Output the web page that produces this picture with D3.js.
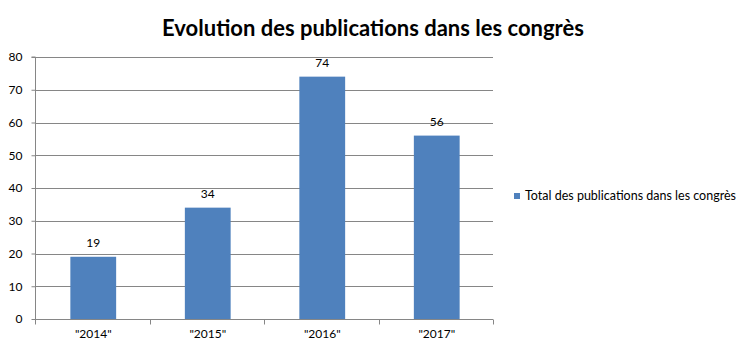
<!DOCTYPE html>
<html>
<head>
<meta charset="utf-8">
<script src="https://cdn.jsdelivr.net/npm/d3@7"></script>
<style>
  body { margin: 0; background: #fff; }
  text { font-family: Lato, "Open Sans", sans-serif; fill: #000; }
</style>
</head>
<body>
<div id="chart"></div>
<script>
// data
const years = ['"2014"', '"2015"', '"2016"', '"2017"'];
const totals = [19, 34, 74, 56];
const yTicks = [0, 10, 20, 30, 40, 50, 60, 70, 80];
const seriesName = "Total des publications dans les congrès";

const W = 745, H = 352;
var margin = {top: 57, left: 35, right: 252, bottom: 33};
var width = W - margin.left - margin.right,
    height = H - margin.top - margin.bottom;

var svg = d3.select("#chart").append("svg")
  .attr("width", W).attr("height", H);

svg.append("text")
  .attr("x", 373).attr("y", 36)
  .attr("text-anchor", "middle")
  .style("font-size", "22px").style("font-weight", "bold")
  .text("Evolution des publications dans les congrès");

var g = svg.append("g")
  .attr("transform", "translate(" + margin.left + "," + margin.top + ")");

var x = d3.scaleBand().domain(years).range([0, width]).padding(0);
var y = d3.scaleLinear().domain([0, 80]).range([height, 0]);

// gridlines
g.append("g").selectAll("line")
  .data(yTicks.filter(d => d > 0))
  .enter().append("line")
  .attr("x1", 0).attr("x2", width)
  .attr("y1", d => Math.round(y(d)) + 0.5).attr("y2", d => Math.round(y(d)) + 0.5)
  .attr("stroke", "#868686");

// bars
var barW = x.bandwidth() * 0.4;
g.append("g").selectAll("rect")
  .data(totals)
  .enter().append("rect")
  .attr("x", (d, i) => x(years[i]) + (x.bandwidth() - barW) / 2 + 1)
  .attr("y", d => y(d))
  .attr("width", barW)
  .attr("height", d => height - y(d))
  .attr("fill", "#4F81BD");

// value labels
g.append("g").selectAll("text")
  .data(totals)
  .enter().append("text")
  .attr("x", (d, i) => x(years[i]) + x.bandwidth() / 2 + 1)
  .attr("y", d => y(d) - 10)
  .attr("text-anchor", "middle")
  .style("font-size", "12px")
  .text(d => d);

// y axis
var yAxis = g.append("g")
  .attr("transform", "translate(0.5,0)")
  .call(d3.axisLeft(y).tickValues(yTicks).tickSize(4).tickPadding(9));
yAxis.selectAll("path, line").attr("stroke", "#868686");
yAxis.select(".domain").attr("d", "M-4," + y(80) + "H0V" + height);
yAxis.selectAll("text").style("font-size", "12px").style("font-family", "Lato, sans-serif");

// x axis
var xAxisG = g.append("g")
  .attr("transform", "translate(0," + (Math.round(height) + 0.5) + ")");
xAxisG.append("line").attr("x1", 0).attr("x2", width).attr("stroke", "#868686");
xAxisG.selectAll(".tk")
  .data(years.map((d, i) => i).concat([years.length]))
  .enter().append("line")
  .attr("x1", i => Math.round(i * x.step()) + 0.5).attr("x2", i => Math.round(i * x.step()) + 0.5)
  .attr("y1", 0).attr("y2", 5).attr("stroke", "#868686");
xAxisG.selectAll("text")
  .data(years)
  .enter().append("text")
  .attr("x", d => x(d) + x.bandwidth() / 2 + 1)
  .attr("y", 18)
  .attr("text-anchor", "middle")
  .style("font-size", "12px")
  .text(d => d);

// legend
var leg = svg.append("g").attr("transform", "translate(514,193)");
leg.append("rect").attr("width", 6).attr("height", 6).attr("fill", "#4F81BD");
leg.append("text").attr("x", 11).attr("y", 7)
  .style("font-size", "12.5px").text(seriesName);
</script>
</body>
</html>
